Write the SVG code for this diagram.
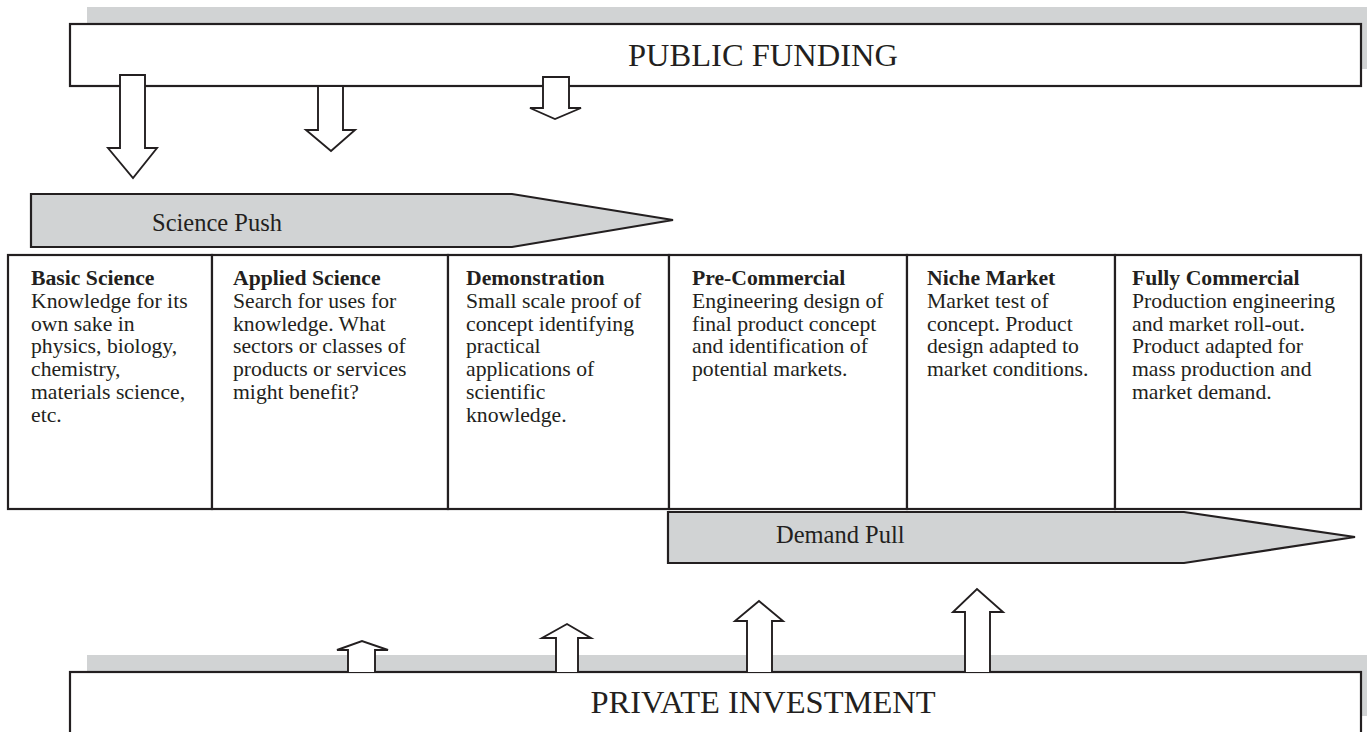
<svg xmlns="http://www.w3.org/2000/svg" width="1367" height="732" viewBox="0 0 1367 732">
  <style>
    .shadow { fill: #d1d3d4; stroke: none; }
    .box { fill: #ffffff; stroke: #231f20; stroke-width: 2.2; }
    .band { fill: #d1d3d4; stroke: #231f20; stroke-width: 2.2; stroke-linejoin: miter; }
    .flow { fill: #ffffff; stroke: #231f20; stroke-width: 1.9; stroke-linejoin: miter; }
    .big { font-family: "Liberation Serif", "Times New Roman", serif; font-size: 32.5px; fill: #231f20; }
    .label { font-family: "Liberation Serif", "Times New Roman", serif; font-size: 24.5px; fill: #231f20; }
    .stage { font-family: "Liberation Serif", "Times New Roman", serif; font-size: 21.7px; fill: #231f20; }
    .stage .title { font-weight: bold; }
  </style>
  <rect width="1367" height="732" fill="#ffffff"/>

  <!-- Public funding source -->
  <g id="public-funding">
    <rect class="shadow" x="87" y="7" width="1300" height="62"/>
    <rect class="box" x="70" y="24" width="1291" height="62"/>
    <text class="big" x="763" y="66" text-anchor="middle">PUBLIC FUNDING</text>
  </g>

  <!-- Science push band -->
  <g id="science-push">
    <path class="band" d="M31,194 H512 L673,220 L512,247 H31 Z"/>
    <text class="label" x="152" y="231">Science Push</text>
  </g>

  <!-- Innovation chain stages -->
  <g id="stage-basic-science" class="stage">
    <rect class="box" x="8" y="255" width="204" height="254"/>
    <text x="31" y="285"><tspan class="title">Basic Science</tspan><tspan x="31" dy="22.8">Knowledge for its</tspan><tspan x="31" dy="22.8">own sake in</tspan><tspan x="31" dy="22.8">physics, biology,</tspan><tspan x="31" dy="22.8">chemistry,</tspan><tspan x="31" dy="22.8">materials science,</tspan><tspan x="31" dy="22.8">etc.</tspan></text>
  </g>
  <g id="stage-applied-science" class="stage">
    <rect class="box" x="212" y="255" width="236" height="254"/>
    <text x="233" y="285"><tspan class="title">Applied Science</tspan><tspan x="233" dy="22.8">Search for uses for</tspan><tspan x="233" dy="22.8">knowledge. What</tspan><tspan x="233" dy="22.8">sectors or classes of</tspan><tspan x="233" dy="22.8">products or services</tspan><tspan x="233" dy="22.8">might benefit?</tspan></text>
  </g>
  <g id="stage-demonstration" class="stage">
    <rect class="box" x="448" y="255" width="221" height="254"/>
    <text x="466" y="285"><tspan class="title">Demonstration</tspan><tspan x="466" dy="22.8">Small scale proof of</tspan><tspan x="466" dy="22.8">concept identifying</tspan><tspan x="466" dy="22.8">practical</tspan><tspan x="466" dy="22.8">applications of</tspan><tspan x="466" dy="22.8">scientific</tspan><tspan x="466" dy="22.8">knowledge.</tspan></text>
  </g>
  <g id="stage-pre-commercial" class="stage">
    <rect class="box" x="669" y="255" width="238" height="254"/>
    <text x="692" y="285"><tspan class="title">Pre-Commercial</tspan><tspan x="692" dy="22.8">Engineering design of</tspan><tspan x="692" dy="22.8">final product concept</tspan><tspan x="692" dy="22.8">and identification of</tspan><tspan x="692" dy="22.8">potential markets.</tspan></text>
  </g>
  <g id="stage-niche-market" class="stage">
    <rect class="box" x="907" y="255" width="208" height="254"/>
    <text x="927" y="285"><tspan class="title">Niche Market</tspan><tspan x="927" dy="22.8">Market test of</tspan><tspan x="927" dy="22.8">concept. Product</tspan><tspan x="927" dy="22.8">design adapted to</tspan><tspan x="927" dy="22.8">market conditions.</tspan></text>
  </g>
  <g id="stage-fully-commercial" class="stage">
    <rect class="box" x="1115" y="255" width="246" height="254"/>
    <text x="1132" y="285"><tspan class="title">Fully Commercial</tspan><tspan x="1132" dy="22.8">Production engineering</tspan><tspan x="1132" dy="22.8">and market roll-out.</tspan><tspan x="1132" dy="22.8">Product adapted for</tspan><tspan x="1132" dy="22.8">mass production and</tspan><tspan x="1132" dy="22.8">market demand.</tspan></text>
  </g>

  <!-- Demand pull band -->
  <g id="demand-pull">
    <path class="band" d="M668,512 H1184 L1355,537 L1184,563 H668 Z"/>
    <text class="label" x="776" y="543">Demand Pull</text>
  </g>

  <!-- Private investment source -->
  <g id="private-investment">
    <rect class="shadow" x="87" y="655" width="1300" height="61"/>
    <rect class="box" x="70" y="672" width="1291" height="72"/>
    <text class="big" x="763" y="713" text-anchor="middle">PRIVATE INVESTMENT</text>
  </g>

  <!-- Funding flows: block arrows -->
  <g id="connectors">
    <path class="flow" d="M120,75 H145 V148 H157 L133,178 L108,148 H120 Z"/>
    <path class="flow" d="M318,86 H343 V130 H355 L331,151 L306,130 H318 Z"/>
    <path class="flow" d="M543,77 H569 V108 H581 L555,119 L530,108 H543 Z"/>
    <path class="flow" d="M348,672 V650 H337 L362,641 L388,650 H375 V672"/>
    <path class="flow" d="M556,672 V638 H542 L567,624 L591,638 H578 V672"/>
    <path class="flow" d="M747,672 V621 H735 L759,601 L783,621 H772 V672"/>
    <path class="flow" d="M965,672 V612 H953 L977,589 L1003,612 H990 V672"/>
  </g>
</svg>
